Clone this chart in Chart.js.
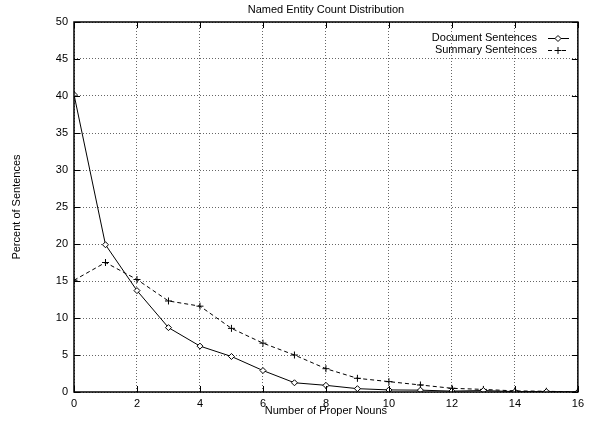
<!DOCTYPE html>
<html>
<head>
<meta charset="utf-8">
<script src="https://cdn.jsdelivr.net/npm/chart.js@4"></script>
<style>
  html, body { margin: 0; padding: 0; background: #fff; }
  #wrap { width: 589px; height: 423px; }
</style>
</head>
<body>
<div id="wrap"><canvas id="chart"></canvas></div>
<script>
// dados
const nounCounts = [0, 1, 2, 3, 4, 5, 6, 7, 8, 9, 10, 11, 12, 13, 14, 15, 16];
const documentPct = [40.2, 19.9, 13.7, 8.7, 6.2, 4.8, 2.9, 1.25, 0.9, 0.45, 0.28, 0.25, 0.12, 0.2, 0.05, 0.05, 0.0];
const summaryPct = [15.1, 17.5, 15.2, 12.3, 11.6, 8.6, 6.6, 5.0, 3.15, 1.85, 1.4, 0.95, 0.5, 0.35, 0.15, 0.1, 0.0];
const xTicks = [0, 2, 4, 6, 8, 10, 12, 14, 16];
const yTicks = [0, 5, 10, 15, 20, 25, 30, 35, 40, 45, 50];

const FONT = 'Liberation Sans, Arial, sans-serif';

function toPoints(values) {
    return nounCounts.map((x, i) => ({ x: x, y: values[i] }));
}

// desenha título, rótulos, moldura, ticks internos e legenda no estilo gnuplot
const gnuplotDecor = {
    id: 'gnuplotDecor',
    afterDatasetsDraw(chart) {
        const ctx = chart.ctx;
        const a = chart.chartArea;
        const xs = chart.scales.x;
        const ys = chart.scales.y;
        ctx.save();
        ctx.strokeStyle = '#000';
        ctx.lineWidth = 1;
        ctx.setLineDash([]);
        ctx.beginPath();
        xTicks.forEach(v => {
            const px = Math.round(xs.getPixelForValue(v)) + 0.5;
            ctx.moveTo(px, a.bottom); ctx.lineTo(px, a.bottom - 6);
            ctx.moveTo(px, a.top); ctx.lineTo(px, a.top + 6);
        });
        yTicks.forEach(v => {
            const py = Math.round(ys.getPixelForValue(v)) + 0.5;
            ctx.moveTo(a.left, py); ctx.lineTo(a.left + 6, py);
            ctx.moveTo(a.right, py); ctx.lineTo(a.right - 6, py);
        });
        ctx.stroke();
        ctx.lineWidth = 1.5;
        ctx.strokeRect(a.left, a.top, a.right - a.left, a.bottom - a.top);

        ctx.fillStyle = '#000';
        ctx.font = '11px ' + FONT;
        ctx.textAlign = 'center';
        ctx.textBaseline = 'middle';
        ctx.fillText('Named Entity Count Distribution', (a.left + a.right) / 2, 10);
        ctx.fillText('Number of Proper Nouns', (a.left + a.right) / 2, 411);
        ctx.save();
        ctx.translate(17, (a.top + a.bottom) / 2);
        ctx.rotate(-Math.PI / 2);
        ctx.fillText('Percent of Sentences', 0, 0);
        ctx.restore();

        // legenda
        const entries = [
            { label: 'Document Sentences', ds: chart.data.datasets[0], y: 38 },
            { label: 'Summary Sentences', ds: chart.data.datasets[1], y: 50 }
        ];
        ctx.textAlign = 'right';
        entries.forEach(e => {
            ctx.fillStyle = '#000';
            ctx.fillText(e.label, 537, e.y);
            ctx.beginPath();
            ctx.lineWidth = 1;
            ctx.setLineDash(e.ds.borderDash || []);
            ctx.moveTo(548, e.y + 0.5); ctx.lineTo(569, e.y + 0.5);
            ctx.stroke();
            ctx.setLineDash([]);
            ctx.fillStyle = '#fff';
            Chart.helpers.drawPoint(ctx, {
                pointStyle: e.ds.pointStyle,
                radius: e.ds.pointRadius,
                borderWidth: 1
            }, 558, e.y + 0.5);
        });
        ctx.restore();
    }
};

new Chart(document.getElementById('chart'), {
    type: 'line',
    data: {
        datasets: [
            {
                label: 'Document Sentences',
                data: toPoints(documentPct),
                borderColor: '#000',
                backgroundColor: '#fff',
                borderWidth: 1,
                pointStyle: 'rectRot',
                pointRadius: 3,
                pointBorderWidth: 1,
                tension: 0
            },
            {
                label: 'Summary Sentences',
                data: toPoints(summaryPct),
                borderColor: '#000',
                backgroundColor: '#000',
                borderWidth: 1,
                borderDash: [4, 3],
                pointStyle: 'cross',
                pointRadius: 3.5,
                pointBorderWidth: 1,
                tension: 0
            }
        ]
    },
    options: {
        responsive: true,
        maintainAspectRatio: false,
        animation: false,
        layout: { padding: { top: 22, right: 10, left: 0, bottom: 0 } },
        plugins: {
            legend: { display: false },
            title: { display: false },
            tooltip: { enabled: false }
        },
        scales: {
            x: {
                type: 'linear',
                min: 0,
                max: 16,
                afterBuildTicks: s => { s.ticks = xTicks.map(v => ({ value: v })); },
                afterFit: s => { s.height = 31; },
                border: { display: false, dash: [1, 2] },
                grid: { color: 'rgba(0,0,0,0.6)', drawTicks: false, lineWidth: 1 },
                ticks: { color: '#000', font: { family: FONT, size: 11 }, padding: 5, maxRotation: 0 }
            },
            y: {
                min: 0,
                max: 50,
                afterBuildTicks: s => { s.ticks = yTicks.map(v => ({ value: v })); },
                afterFit: s => { s.width = 74; },
                border: { display: false, dash: [1, 2] },
                grid: { color: 'rgba(0,0,0,0.6)', drawTicks: false, lineWidth: 1 },
                ticks: { color: '#000', font: { family: FONT, size: 11 }, padding: 6 }
            }
        }
    },
    plugins: [gnuplotDecor]
});
</script>
</body>
</html>
